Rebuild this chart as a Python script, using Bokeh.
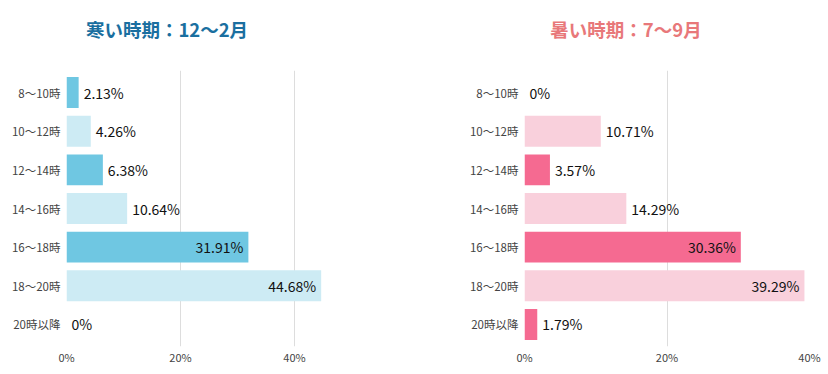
from bokeh.plotting import figure
from bokeh.models import ColumnDataSource, FactorRange, Range1d, Div, NumeralTickFormatter, FixedTicker
from bokeh.layouts import row, column
from bokeh.core.properties import value
from bokeh.embed import file_html
from bokeh.resources import INLINE

categories = ["8～10時", "10～12時", "12～14時", "14～16時", "16～18時", "18～20時", "20時以降"]
winter_values = [2.13, 4.26, 6.38, 10.64, 31.91, 44.68, 0]
summer_values = [0, 10.71, 3.57, 14.29, 30.36, 39.29, 1.79]
winter_title = "寒い時期：12～2月"
summer_title = "暑い時期：7～9月"
x_ticks = [0, 20, 40]

FONT = "Noto Sans CJK JP"


def make_chart(vals, title, title_color, dark, light, xmax, border_left, border_right, title_center):
    p = figure(frame_width=285, frame_height=276, output_backend="svg", toolbar_location=None,
               y_range=FactorRange(factors=categories[::-1], range_padding=0.02),
               x_range=Range1d(0, xmax),
               min_border_left=border_left, min_border_right=border_right,
               min_border_top=20, min_border_bottom=20, title=None)
    colors = [dark if i % 2 == 0 else light for i in range(len(categories))]
    src = ColumnDataSource(dict(cat=categories, val=vals, color=colors))
    p.hbar(y="cat", right="val", left=0, height=0.8, fill_color="color",
           line_color=None, source=src)

    thr = xmax * 0.5
    inside = ColumnDataSource(dict(
        cat=[c for c, v in zip(categories, vals) if v > thr],
        val=[v for v in vals if v > thr],
        label=[f"{v:g}%" for v in vals if v > thr]))
    outside = ColumnDataSource(dict(
        cat=[c for c, v in zip(categories, vals) if v <= thr],
        val=[v for v in vals if v <= thr],
        label=[f"{v:g}%" for v in vals if v <= thr]))
    p.text(x="val", y="cat", text="label", source=inside, text_align="right",
           text_baseline="middle", x_offset=-5, text_font=value(FONT),
           text_font_size="14px", text_color="#111111")
    p.text(x="val", y="cat", text="label", source=outside, text_align="left",
           text_baseline="middle", x_offset=5, text_font=value(FONT),
           text_font_size="14px", text_color="#111111")

    p.outline_line_color = None
    p.ygrid.grid_line_color = None
    p.xgrid.grid_line_color = "#dddddd"
    p.xaxis.ticker = FixedTicker(ticks=x_ticks)
    p.xaxis.formatter = NumeralTickFormatter(format="0")
    p.xaxis.major_label_overrides = {t_: f"{t_}%" for t_ in x_ticks}
    for ax in (p.xaxis, p.yaxis):
        ax.axis_line_color = None
        ax.major_tick_line_color = None
        ax.minor_tick_line_color = None
        ax.major_tick_out = 0
        ax.major_tick_in = 0
        ax.major_label_text_font = FONT
        ax.major_label_text_color = "#444444"
    p.xaxis.major_label_text_font_size = "11px"
    p.yaxis.major_label_text_font_size = "11.5px"
    p.xaxis.major_label_standoff = 2
    p.yaxis.major_label_standoff = 6

    fig_w = border_left + 285 + border_right
    html = (f'<div style="margin-left:{title_center - 110}px;width:220px;margin-top:17px;'
            f'line-height:24px;text-align:center;font-family:\'{FONT}\';font-size:18.5px;'
            f'font-weight:bold;color:{title_color};white-space:nowrap">{title}</div>')
    d = Div(text=html, width=fig_w, height=50, margin=0)
    return column(d, p, spacing=0)


left = make_chart(winter_values, winter_title, "#1a6fa0", "#6fc7e2", "#cdebf4", 50, 66, 58, 167)
right = make_chart(summer_values, summer_title, "#e8787a", "#f56a91", "#f9d0dc", 40, 115, 15, 217)

layout = row(left, right, spacing=0)
open("out.html", "w").write(file_html(layout, INLINE))
